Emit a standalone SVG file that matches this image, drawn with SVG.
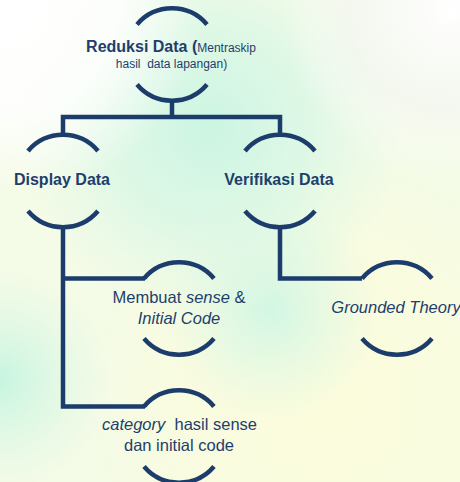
<svg xmlns="http://www.w3.org/2000/svg" width="460" height="482" viewBox="0 0 460 482">
<defs>
<radialGradient id="m1" cx="210" cy="130" r="190" gradientUnits="userSpaceOnUse">
<stop offset="0" stop-color="#c9f5e2" stop-opacity="0.95"/>
<stop offset="0.55" stop-color="#d2f6e6" stop-opacity="0.6"/>
<stop offset="1" stop-color="#d8f7e8" stop-opacity="0"/>
</radialGradient>
<radialGradient id="m2" cx="0" cy="380" r="110" gradientUnits="userSpaceOnUse">
<stop offset="0" stop-color="#c6f5e0" stop-opacity="1"/>
<stop offset="1" stop-color="#d8f7e8" stop-opacity="0"/>
</radialGradient>
<radialGradient id="m3" cx="270" cy="310" r="110" gradientUnits="userSpaceOnUse">
<stop offset="0" stop-color="#cdf6e4" stop-opacity="0.9"/>
<stop offset="1" stop-color="#d8f7e8" stop-opacity="0"/>
</radialGradient>
<radialGradient id="yel" cx="330" cy="400" r="240" gradientUnits="userSpaceOnUse">
<stop offset="0" stop-color="#fbfcdc" stop-opacity="1"/>
<stop offset="0.6" stop-color="#fbfcdc" stop-opacity="0.7"/>
<stop offset="1" stop-color="#fbfcdc" stop-opacity="0"/>
</radialGradient>
<radialGradient id="wtl" cx="10" cy="10" r="190" gradientUnits="userSpaceOnUse">
<stop offset="0" stop-color="#ffffff" stop-opacity="1"/>
<stop offset="0.55" stop-color="#ffffff" stop-opacity="0.85"/>
<stop offset="1" stop-color="#ffffff" stop-opacity="0"/>
</radialGradient>
<radialGradient id="wtr" cx="450" cy="10" r="170" gradientUnits="userSpaceOnUse">
<stop offset="0" stop-color="#ffffff" stop-opacity="1"/>
<stop offset="0.6" stop-color="#f4f6f2" stop-opacity="0.7"/>
<stop offset="1" stop-color="#ffffff" stop-opacity="0"/>
</radialGradient>
</defs>
<style>
.ln{fill:none;stroke:#1c3d6b;stroke-width:4.5;}
.arc{fill:none;stroke:#1c3d6b;stroke-width:4.5;}
text{font-family:"Liberation Sans",Arial,sans-serif;fill:#1f3e6c;text-anchor:middle;}
.b{font-weight:bold;font-size:16px;}
.s{font-size:12px;}
.m{font-size:16.5px;}
.i{font-style:italic;}
</style>
<rect x="0" y="0" width="460" height="482" fill="#f4fbe6"/>
<rect x="0" y="0" width="460" height="482" fill="url(#yel)"/>
<rect x="0" y="0" width="460" height="482" fill="url(#m1)"/>
<rect x="0" y="0" width="460" height="482" fill="url(#m2)"/>
<rect x="0" y="0" width="460" height="482" fill="url(#m3)"/>
<rect x="0" y="0" width="460" height="482" fill="url(#wtl)"/>
<rect x="0" y="0" width="460" height="482" fill="url(#wtr)"/>

<g id="connectors">
<path class="ln" d="M172 100 V117"/>
<path class="ln" d="M63 135 V117 H280 V135"/>
<path class="ln" d="M63 227 V406.5 H145"/>
<path class="ln" d="M63 278.5 H145"/>
<path class="ln" d="M280 227 V278.5 H362"/>
</g>

<g id="reduksi">
<path class="arc" d="M137 24.5 A46 46 0 0 1 207 24.5"/>
<path class="arc" d="M137 84.5 A46 46 0 0 0 207 84.5"/>
<text x="171" y="52"><tspan class="b">Reduksi Data (</tspan><tspan class="s">Mentraskip</tspan></text>
<text x="171.5" y="68" class="s" xml:space="preserve">hasil  data lapangan)</text>
</g>

<g id="display">
<path class="arc" d="M28 151 A46 46 0 0 1 98 151"/>
<path class="arc" d="M28 211 A46 46 0 0 0 98 211"/>
<text x="62" y="185" class="b">Display Data</text>
</g>

<g id="verifikasi">
<path class="arc" d="M245 151 A46 46 0 0 1 315 151"/>
<path class="arc" d="M245 211 A46 46 0 0 0 315 211"/>
<text x="279" y="185" class="b">Verifikasi Data</text>
</g>

<g id="membuat">
<path class="arc" d="M144 278.5 A46 46 0 0 1 214 278.5"/>
<path class="arc" d="M144 338.5 A46 46 0 0 0 214 338.5"/>
<text x="179" y="303" class="m">Membuat <tspan class="i">sense</tspan> &amp;</text>
<text x="179" y="324" class="m i">Initial Code</text>
</g>

<g id="grounded">
<path class="arc" d="M362 278.5 A46 46 0 0 1 432 278.5"/>
<path class="arc" d="M362 338.5 A46 46 0 0 0 432 338.5"/>
<text x="396" y="313" class="m i">Grounded Theory</text>
</g>

<g id="category">
<path class="arc" d="M144 406.5 A46 46 0 0 1 214 406.5"/>
<path class="arc" d="M144 466.5 A46 46 0 0 0 214 466.5"/>
<text x="179.5" y="430" class="m" xml:space="preserve"><tspan class="i">category</tspan>  hasil sense</text>
<text x="179" y="451" class="m">dan initial code</text>
</g>
</svg>
